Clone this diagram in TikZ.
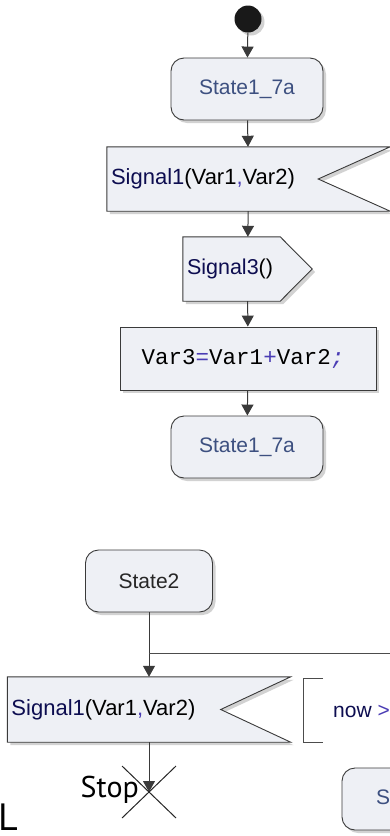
\documentclass[tikz,border=0pt]{standalone}
\usepackage{fontspec}
\setmainfont{Liberation Sans}
\setmonofont{Liberation Mono}
\newfontfamily\stopfont{PT Sans}
\usepackage{tikz}
\usetikzlibrary{calc,shadows,arrows.meta,backgrounds}

\definecolor{boxfill}{HTML}{EEF0F5}
\definecolor{boxline}{HTML}{3A3A3A}
\definecolor{statetext}{HTML}{3D5080}
\definecolor{signame}{HTML}{0D0D50}
\definecolor{punct}{HTML}{4A3CB4}

\tikzset{
  flow/.style={draw=boxline, line width=1pt, -{Triangle[length=11pt,width=12pt]}},
  boxshadow/.style={drop shadow={shadow xshift=3pt, shadow yshift=-3pt, fill=black!35, opacity=.5}},
  statebox/.style={draw=boxline, fill=boxfill, line width=.9pt, rounded corners=13pt, boxshadow, inner sep=0pt, font=\fontsize{21}{25}\selectfont},
  framebox/.style={inner xsep=4pt, inner ysep=0pt, font=\fontsize{22}{26}\selectfont},
  outline/.style={draw=boxline, fill=boxfill, line width=.9pt, boxshadow},
  thinline/.style={draw=black!70, line width=.8pt},
}

\begin{document}
\begin{tikzpicture}[x=1pt,y=-1pt]
\useasboundingbox (0,0) rectangle (390,836);
\clip (0,0) rectangle (390,836);

\node[circle, fill=black!90, minimum size=27pt, inner sep=0pt, boxshadow] (start) at (248,19) {};
\node[statebox, minimum width=152pt, minimum height=62pt, text=statetext] (st1) at (247,89) {State1\_7a};
\node[framebox, minimum height=64pt, text width=275pt] (recv1) at (248.5,179) {\textcolor{signame}{Signal1}(Var1\textcolor{punct}{,}Var2)};
\node[framebox, minimum height=64pt, text width=121pt, font=\fontsize{21.5}{26}\selectfont] (send3) at (247.5,269) {\textcolor{signame}{Signal3}()};
\node[draw=boxline, fill=boxfill, line width=.9pt, boxshadow, minimum width=256pt, minimum height=63pt, font=\ttfamily\fontsize{22.5}{26}\selectfont] (task) at (248,358.5) {\hspace{-10pt}Var3\textcolor{punct}{=}Var1\textcolor{punct}{+}Var2\textcolor{punct}{\itshape;}};
\node[statebox, minimum width=152pt, minimum height=62pt, text=statetext] (st1b) at (247,447) {State1\_7a};

\begin{scope}[on background layer]
\draw[outline] (recv1.north west) -- (recv1.north east) -- ($(recv1.east)+(-72,0)$) -- (recv1.south east) -- (recv1.south west) -- cycle;
\draw[outline] (send3.north west) -- ($(send3.north east)+(-32,0)$) -- (send3.east) -- ($(send3.south east)+(-32,0)$) -- (send3.south west) -- cycle;
\end{scope}

\draw[flow] (start) -- (st1);
\draw[flow] (st1) -- (recv1);
\draw[flow] (recv1) -- (send3);
\draw[flow] (send3) -- (task);
\draw[flow] (task) -- (st1b);

\node[statebox, minimum width=127pt, minimum height=62pt, text=black!85] (st2) at (149,581) {State2};
\node[framebox, minimum height=65pt, text width=275pt] (recv2) at (149,709.5) {\textcolor{signame}{Signal1}(Var1\textcolor{punct}{,}Var2)};
\node[statebox, minimum width=164pt, minimum height=62pt, text=statetext] (st3) at (424,799) {State1\_7a};

\begin{scope}[on background layer]
\draw[outline] (recv2.north west) -- (recv2.north east) -- ($(recv2.east)+(-70,0)$) -- (recv2.south east) -- (recv2.south west) -- cycle;
\end{scope}

\coordinate (fork) at (149,653);
\coordinate (forkend) at (395,653);
\coordinate (stop) at (149,792);

\draw[flow] (st2) -- (recv2);
\draw[thinline] (fork) -- (forkend);
\draw[flow] (recv2) -- (stop);

\draw[thinline] (323,678) -- (303,678) -- (303,742) -- (323,742);
\node[anchor=west, inner sep=0pt, text=signame, font=\fontsize{21}{25}\selectfont] (guard) at (333,710) {now \textcolor{punct}{>}T};

\draw[draw=black!85, line width=1pt] ($(stop)+(-27,-26)$) -- ($(stop)+(27,26)$);
\draw[draw=black!85, line width=1pt] ($(stop)+(27,-26)$) -- ($(stop)+(-27,26)$);
\node[anchor=east, inner sep=0pt, font=\stopfont\fontsize{30}{30}\selectfont] (stoplabel) at (139,790) {Stop};
\node[anchor=base west, inner sep=0pt, font=\stopfont\fontsize{38}{38}\selectfont] (corner) at (-2,830) {L};
\end{tikzpicture}
\end{document}
